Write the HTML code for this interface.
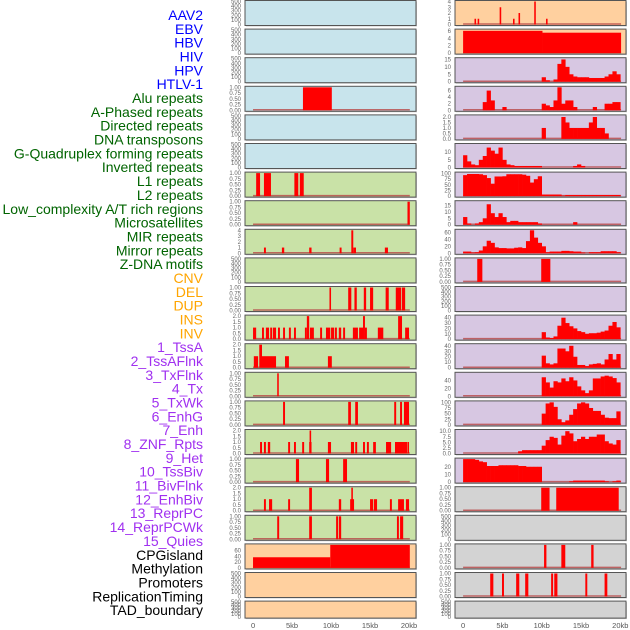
<!DOCTYPE html>
<html><head><meta charset="utf-8"><style>
html,body{margin:0;padding:0;background:#fff;}
svg{display:block;font-family:"Liberation Sans",sans-serif;}
</style></head><body>
<svg id="chart" width="630" height="630" viewBox="0 0 630 630" xmlns="http://www.w3.org/2000/svg"></svg>
<script>
// ---- labels ----
const trackNames = ["AAV2","EBV","HBV","HIV","HPV","HTLV-1","Alu repeats","A-Phased repeats","Directed repeats","DNA transposons","G-Quadruplex forming repeats","Inverted repeats","L1 repeats","L2 repeats","Low_complexity A/T rich regions","Microsatellites","MIR repeats","Mirror repeats","Z-DNA motifs","CNV","DEL","DUP","INS","INV","1_TssA","2_TssAFlnk","3_TxFlnk","4_Tx","5_TxWk","6_EnhG","7_Enh","8_ZNF_Rpts","9_Het","10_TssBiv","11_BivFlnk","12_EnhBiv","13_ReprPC","14_ReprPCWk","15_Quies","CPGisland","Methylation","Promoters","ReplicationTiming","TAD_boundary"];
const xTickValues = [0,5,10,15,20];
const xTickLabels = ["0","5kb","10kb","15kb","20kb"];

// ---- segment tracks (kb start, kb end, value) ----
const hivStarts=[6.4], hivEnds=[10.1], hivVals=[1];
const aluStarts=[0.4,1.4,5.3,6.0], aluEnds=[0.9,2.3,5.8,6.5], aluVals=[1,1,1,1];
const aphStarts=[19.8], aphEnds=[20.1], aphVals=[1];
const dirStarts=[1.4,3.7,7.2,11.1,12.6,12.85,16.9], dirEnds=[1.65,4.0,7.5,11.35,12.85,13.2,17.3], dirVals=[1,1,1,1,4,1,1];
const gquadStarts=[9.8,12.2,13.0,14.2,15.0,17.0,18.3,19.1], gquadEnds=[10.0,12.6,13.3,14.5,15.4,17.4,19.0,19.5], gquadVals=[1,1,1,1,1,1,1,1];
const invStarts=[0.0,1.15,1.65,2.2,2.55,3.2,3.85,4.6,5.25,6.65,6.9,7.3,8.6,9.35,10.0,10.5,11.0,11.55,12.8,13.6,14.1,14.35,16.0,18.6,19.5];
const invEnds=[0.4,1.4,2.05,2.45,2.95,3.45,4.1,4.85,5.5,6.9,7.2,7.8,8.85,9.9,10.4,10.75,11.3,11.8,13.45,14.1,14.35,14.6,16.7,19.1,20.0];
const invVals=[1,1,1,1,1,1,1,1,1,1,2,1,1,1,1,1,1,1,1,1,2,1,1,2,1];
const l1Starts=[0.1,0.8,1.15,4.1,9.6], l1Ends=[0.65,1.15,2.95,4.6,10.1], l1Vals=[1,2,1,1,1];
const l2Starts=[3.1], l2Ends=[3.3], l2Vals=[1];
const lowcStarts=[3.85,12.2,13.1,18.1,18.85,19.35], lowcEnds=[4.1,12.55,13.45,18.35,19.1,20.0], lowcVals=[1,1,1,1,1,1];
const microStarts=[0.9,1.4,1.9,4.5,5.25,6.3,7.2,7.25,9.6,12.55,13.1,14.1,14.6,15.4,17.05,18.2,19.8];
const microEnds=[1.15,1.65,2.2,4.75,5.5,6.55,7.5,7.45,10.0,12.95,13.35,14.35,14.85,15.75,17.7,19.75,20.0];
const microVals=[1,1,1,1,1,1,1,2,1,1,1,1,1,1,1,1,1];
const mirStarts=[5.5,9.35,11.55], mirEnds=[5.9,9.75,12.05], mirVals=[1,1,1];
const mirrorStarts=[1.4,2.05,4.5,7.2,11.0,12.45,12.6,15.0,15.5,17.55,18.6,19.6];
const mirrorEnds=[1.65,2.45,4.75,7.55,11.3,12.95,12.8,15.4,15.9,17.8,19.35,20.0];
const mirrorVals=[1,1,1,2,1,1,2,1,1,1,1,1];
const zdnaStarts=[3.1,7.2,10.65,11.0,18.45,18.85], zdnaEnds=[3.35,7.55,10.9,11.3,18.7,19.25], zdnaVals=[1,1,1,1,1,1];
const cnvStarts=[0,9.9], cnvEnds=[9.9,20.1], cnvVals=[37,80];
const insStarts=[1.45,1.85,4.65,6.35,7.05,9.05,10.55], insEnds=[1.65,2.05,4.85,6.55,7.25,9.25,10.75], insVals=[1,1,3,1,2,4,1];
const invtStarts=[0,10.1], invtEnds=[10.1,20.1], invtVals=[6,5.5];
const znfStarts=[1.8,9.94], znfEnds=[2.45,11.1], znfVals=[1,1];
const cpgStarts=[9.94,11.85], cpgEnds=[11.0,19.8], cpgVals=[1,1];
const promStarts=[10.3,12.5,16.3], promEnds=[10.6,13.0,16.6], promVals=[1,1,1];
const repStarts=[3.45,4.95,6.75,7.9,11.2,11.6,15.55,18.0], repEnds=[3.85,5.2,7.15,8.3,11.45,12.0,15.8,18.35], repVals=[1,1,1,1,1,1,1,1];

// ---- binned profile tracks (0.5 kb bins, 0..20 kb) ----
const binSize = 0.5;
const tssA=[0,0,0,0,0,0,0,0,0,0,0,0,0,0,0,0,0,0,0,0,3,1,0,1.5,12,15,10,5,3.5,3,3,3,2.5,2.5,2.5,2.5,3.5,5,7,5];
const tssAFlnk=[0,0,0,0,0,2.5,6,3,0,0,1,0,0,0,0,0,0,0,0,0,2,1.5,1,3,7,2,3,3,1,0,0,0,0,1,0,0,2,2,2.5,2.5];
const txFlnk=[0,0,0,0,0,0,0,0,0,0,0,0,0,0,0,0,0,0,0,0,1,0,0,0,0,2,1.5,1,1,1,1,1,1.5,2,1,1,0.5,0,0,0];
const tx=[8,4,2,1.5,5,7.5,13,11,9,13,5,2,1.5,1,1,1,1,1,1,1,0,0,0,0,0,0,0,0,1,2,1,0,0,0,0,0,0,0,0,0];
const txWk=[93,98,98,98,97,93,80,55,87,87,88,97,97,97,97,95,90,60,75,88,7,7,7,7,7,2,5,5,5,5,5,5,5,5,5,5,5,5,5,5];
const enhG=[6,1,0,1,2,5,16,9,6,9,6,2,3,3,2,2,2,2,2,1,0,0,0,0,0,0,0,0,2,0,0,0,0,0,0,0,0,0,0,0];
const enh=[5,5,2,3,8,20,36,30,17,15,15,14,14,16,17,15,35,66,45,30,20,3,5,5,5,7,7,6,5,5,2,0,3,3,3,6,6,6,6,3];
const tssBiv=[0,0,0,0,0,0,0,0,0,0,0,0,0,0,0,0,0,0,0,0,13,3,2,5,25,40,30,24,20,15,13,10,11,11,12,14,16,25,32,22];
const bivFlnk=[0,0,0,0,0,0,0,0,0,0,0,0,0,0,0,0,0,0,0,0,22,8,6,8,35,35,30,40,20,5,5,3,6,7,8,6,15,25,15,25];
const enhBiv=[0,0,0,0,0,0,0,0,0,0,0,0,0,0,0,0,0,0,0,0,48,35,22,38,35,45,38,48,40,25,15,8,15,45,45,50,52,50,46,35];
const reprPC=[0,0,0,0,0,0,0,0,0,0,0,0,0,0,0,0,0,0,0,0,50,95,100,80,25,12,20,45,70,95,100,95,75,62,62,45,32,30,30,60];
const reprPCWk=[0,0,0,0,0,0,0,0,0,0,0,0,0,0,1,1.5,1.5,1.5,1.5,1.5,3.5,6,7.5,7,4,8,10,9,5.5,6.5,7.5,6.5,7.5,7.5,8.5,8.5,5.5,4.5,4,6];
const quies=[31,30,30,29,27,26,21,21,21,22,22,22,22,22,21,21,20,20,20,20,0,0,0,0,0,0,0,1,2,2,2,2,2,2,2,2,1,0,1,2];

// ---- tick sets ----
const ticksEmpty=[0,100,200,300,400,500];
const ticksUnit=[0,0.25,0.5,0.75,1];
const ticksTwo=[0,0.5,1,1.5,2];
const ticksFour=[0,1,2,3,4];

const BLUE="#c8e4ec", GREEN="#c9e2a7", ORANGE="#ffd09f", PURPLE="#d7c7e2", GREY="#d3d3d3";
const panels=[
 // left column
 {c:0,r:0,f:BLUE},{c:0,r:1,f:BLUE},{c:0,r:2,f:BLUE},
 {c:0,r:3,f:BLUE,s:[hivStarts,hivEnds,hivVals],m:1,t:ticksUnit,d:2},
 {c:0,r:4,f:BLUE},{c:0,r:5,f:BLUE},
 {c:0,r:6,f:GREEN,s:[aluStarts,aluEnds,aluVals],m:1,t:ticksUnit,d:2},
 {c:0,r:7,f:GREEN,s:[aphStarts,aphEnds,aphVals],m:1,t:ticksUnit,d:2},
 {c:0,r:8,f:GREEN,s:[dirStarts,dirEnds,dirVals],m:4,t:ticksFour,d:0},
 {c:0,r:9,f:GREEN},
 {c:0,r:10,f:GREEN,s:[gquadStarts,gquadEnds,gquadVals],m:1,t:ticksUnit,d:2},
 {c:0,r:11,f:GREEN,s:[invStarts,invEnds,invVals],m:2,t:ticksTwo,d:1},
 {c:0,r:12,f:GREEN,s:[l1Starts,l1Ends,l1Vals],m:2,t:ticksTwo,d:1},
 {c:0,r:13,f:GREEN,s:[l2Starts,l2Ends,l2Vals],m:1,t:ticksUnit,d:2},
 {c:0,r:14,f:GREEN,s:[lowcStarts,lowcEnds,lowcVals],m:1,t:ticksUnit,d:2},
 {c:0,r:15,f:GREEN,s:[microStarts,microEnds,microVals],m:2,t:ticksTwo,d:1},
 {c:0,r:16,f:GREEN,s:[mirStarts,mirEnds,mirVals],m:1,t:ticksUnit,d:2},
 {c:0,r:17,f:GREEN,s:[mirrorStarts,mirrorEnds,mirrorVals],m:2,t:ticksTwo,d:1},
 {c:0,r:18,f:GREEN,s:[zdnaStarts,zdnaEnds,zdnaVals],m:1,t:ticksUnit,d:2},
 {c:0,r:19,f:ORANGE,s:[cnvStarts,cnvEnds,cnvVals],m:80,t:[0,20,40,60],d:0},
 {c:0,r:20,f:ORANGE},{c:0,r:21,f:ORANGE,h:17},
 // right column
 {c:1,r:0,f:ORANGE,s:[insStarts,insEnds,insVals],m:4,t:ticksFour,d:0},
 {c:1,r:1,f:ORANGE,s:[invtStarts,invtEnds,invtVals],m:6.2,t:[0,2,4,6],d:0},
 {c:1,r:2,f:PURPLE,b:tssA,m:15.5,t:[0,5,10,15],d:0},
 {c:1,r:3,f:PURPLE,b:tssAFlnk,m:7,t:[0,2,4,6],d:0},
 {c:1,r:4,f:PURPLE,b:txFlnk,m:2.1,t:ticksTwo,d:1},
 {c:1,r:5,f:PURPLE,b:tx,m:15,t:[0,5,10],d:0},
 {c:1,r:6,f:PURPLE,b:txWk,m:102,t:[0,25,50,75,100],d:0},
 {c:1,r:7,f:PURPLE,b:enhG,m:18,t:[0,5,10,15],d:0},
 {c:1,r:8,f:PURPLE,b:enh,m:66,t:[0,20,40,60],d:0},
 {c:1,r:9,f:PURPLE,s:[znfStarts,znfEnds,znfVals],m:1,t:ticksUnit,d:2},
 {c:1,r:10,f:PURPLE},
 {c:1,r:11,f:PURPLE,b:tssBiv,m:43,t:[0,10,20,30,40],d:0},
 {c:1,r:12,f:PURPLE,b:bivFlnk,m:42,t:[0,10,20,30,40],d:0},
 {c:1,r:13,f:PURPLE,b:enhBiv,m:58,t:[0,20,40],d:0},
 {c:1,r:14,f:PURPLE,b:reprPC,m:102,t:[0,25,50,75,100],d:0},
 {c:1,r:15,f:PURPLE,b:reprPCWk,m:10.3,t:[0,2.5,5,7.5,10],d:1},
 {c:1,r:16,f:PURPLE,b:quies,m:30,t:[0,10,20],d:0},
 {c:1,r:17,f:GREY,s:[cpgStarts,cpgEnds,cpgVals],m:1,t:ticksUnit,d:2},
 {c:1,r:18,f:GREY},
 {c:1,r:19,f:GREY,s:[promStarts,promEnds,promVals],m:1,t:ticksUnit,d:2},
 {c:1,r:20,f:GREY,s:[repStarts,repEnds,repVals],m:1,t:ticksUnit,d:2},
 {c:1,r:21,f:GREY,h:17}
];

const NS="http://www.w3.org/2000/svg";
const svg=document.getElementById("chart");
function mk(tag,attrs,parent){const e=document.createElementNS(NS,tag);for(const k in attrs)e.setAttribute(k,attrs[k]);(parent||svg).appendChild(e);return e;}

// label colours by group
function labelColor(i){if(i<6)return"#0000ff";if(i<19)return"#006400";if(i<24)return"#ffa500";if(i<39)return"#a030f0";return"#000000";}
trackNames.forEach((n,i)=>{
  const t=mk("text",{x:203,y:15+i*13.84+5,"text-anchor":"end","font-size":"14",fill:labelColor(i)});
  
  
  t.textContent=n;
});

const colX=[245,455], PW=171, ROWSTEP=28.6;
function xScale(c,kb){return colX[c]+(kb+1.03)*(c===0?7.8:7.86);}

panels.forEach((p,idx)=>{
  const top=0.5+p.r*ROWSTEP, h=p.h||25;
  const g=mk("g",{});
  
  
  mk("rect",{x:colX[p.c]+1,y:top+1,width:PW,height:h,fill:"#999",opacity:0.5},g);
  mk("rect",{x:colX[p.c],y:top,width:PW,height:h,fill:p.f,stroke:"#555","stroke-width":1},g);
  const empty=!(p.s||p.b);
  const ymax=empty?500:p.m, ticks=empty?ticksEmpty:p.t, dec=empty?0:p.d;
  const y0=top+h-1, span=h-2;
  const yS=v=>y0-Math.min(v,ymax)/ymax*span;
  // ticks
  ticks.forEach(v=>{
    const t=mk("text",{x:colX[p.c]-4,y:yS(v)+2,"text-anchor":"end","font-size":"6",fill:"#666"},g);
    
    
    t.textContent=v.toFixed(dec);
  });
  if(empty) return;
  // baseline
  mk("line",{x1:xScale(p.c,0),x2:xScale(p.c,20.1),y1:y0-0.5,y2:y0-0.5,stroke:"#b84848","stroke-width":1.5,opacity:0.8},g);
  if(p.s){
    const [st,en,va]=p.s;
    st.forEach((s,i)=>{
      const x1=xScale(p.c,s), x2=xScale(p.c,en[i]);
      const r=mk("rect",{x:x1,y:yS(va[i]),width:Math.max(1.2,x2-x1),height:y0-yS(va[i]),fill:"#ff0000"},g);
      
      
    });
  }
  if(p.b){
    p.b.forEach((v,i)=>{
      if(v<=0) return;
      const x1=xScale(p.c,i*binSize), x2=xScale(p.c,(i+1)*binSize);
      const r=mk("rect",{x:x1,y:yS(v),width:x2-x1+0.3,height:y0-yS(v),fill:"#ff0000"},g);
      
      
    });
  }
});

// x axes
[0,1].forEach(c=>{
  xTickValues.forEach((v,i)=>{
    const t=mk("text",{x:xScale(c,v),y:628,"text-anchor":"middle","font-size":"7.5",fill:"#555"});
    
    
    t.textContent=xTickLabels[i];
  });
});
</script>
</body></html>
